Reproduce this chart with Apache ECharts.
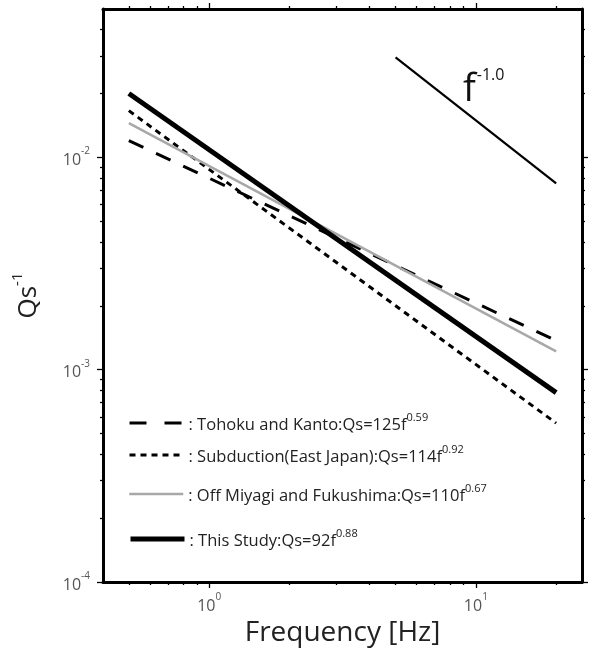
<!DOCTYPE html>
<html>
<head>
<meta charset="utf-8">
<script src="https://cdn.jsdelivr.net/npm/echarts@6/dist/echarts.min.js"></script>
<style>html,body{margin:0;padding:0;background:#fff}#c{width:590px;height:652px}</style>
</head>
<body>
<div id="c"></div>
<script>
// ---- data ----
const xRange = [0.4, 25];
const yRange = [1e-4, 0.05];
const freq = [0.5, 20];
const tohoku = [0.0120, 0.00137];
const subduction = [0.0166, 0.00056];
const offMiyagi = [0.0145, 0.00122];
const thisStudy = [0.0200, 0.00078];
const slopeFreq = [5, 20];
const slopeVal = [0.0296, 0.00755];
const xMajor = [1, 10];
const xMajorExp = ['0', '1'];
const xMinor = [0.5, 0.6, 0.7, 0.8, 0.9, 2, 3, 4, 5, 6, 7, 8, 9, 20];
const yMajor = [1e-4, 1e-3, 1e-2];
const yMajorExp = ['-4', '-3', '-2'];
const yMinor = [2e-4, 3e-4, 4e-4, 5e-4, 6e-4, 7e-4, 8e-4, 9e-4,
                2e-3, 3e-3, 4e-3, 5e-3, 6e-3, 7e-3, 8e-3, 9e-3,
                0.02, 0.03, 0.04];
const seriesNames = ['Tohoku and Kanto', 'Subduction(East Japan)', 'Off Miyagi and Fukushima', 'This Study'];
const legendMain = [': Tohoku and Kanto:Qs=125f', ': Subduction(East Japan):Qs=114f', ': Off Miyagi and Fukushima:Qs=110f', ': This Study:Qs=92f'];
const legendSup = ['0.59', '0.92', '0.67', '0.88'];

const FONT = 'Open Sans';
const pair = (xs, ys) => xs.map((x, i) => [x, ys[i]]);

function expLabel(v, majors, exps) {
  for (let i = 0; i < majors.length; i++) {
    if (Math.abs(v - majors[i]) / majors[i] < 1e-6) return '{b|10}{s|' + exps[i] + '}';
  }
  return '';
}
const labelRich = {
  b: { fontFamily: FONT, fontSize: 16, color: '#555', lineHeight: 22, verticalAlign: 'bottom' },
  s: { fontFamily: FONT, fontSize: 10, color: '#555', lineHeight: 22, verticalAlign: 'top' }
};

const lineDefs = [
  { data: tohoku, color: '#000', width: 3, type: [16, 14] },
  { data: subduction, color: '#000', width: 3, type: [6, 5] },
  { data: offMiyagi, color: '#a8a8a8', width: 2.5, type: 'solid' },
  { data: thisStudy, color: '#000', width: 5, type: 'solid' }
];
const legendDash = [[17, 18], [6, 5], 'solid', 'solid'];
const legendTops = [423, 455, 494, 539];

const series = lineDefs.map((d, i) => ({
  name: seriesNames[i],
  type: 'line',
  xAxisIndex: 0, yAxisIndex: 0,
  data: pair(freq, d.data),
  symbol: 'none',
  silent: true,
  animation: false,
  lineStyle: { color: d.color, width: d.width, type: d.type },
  itemStyle: { color: d.color },
  z: 3 + i
}));
series.push({
  name: 'slope', type: 'line', xAxisIndex: 0, yAxisIndex: 0,
  data: pair(slopeFreq, slopeVal), symbol: 'none',
  animation: false, lineStyle: { color: '#000', width: 2.2 }, z: 3
});

const legends = seriesNames.map((n, i) => ({
  data: [n],
  left: 128,
  top: legendTops[i] - 11,
  orient: 'horizontal',
  itemWidth: 54,
  itemHeight: 14,
  padding: 0,
  selectedMode: false,
  itemStyle: { opacity: 0, borderWidth: 0 },
  lineStyle: { width: lineDefs[i].width, type: legendDash[i], color: lineDefs[i].color },
  formatter: () => '{m|' + legendMain[i] + '}{s|' + legendSup[i] + '}',
  textStyle: {
    rich: {
      m: { fontFamily: FONT, fontSize: 16.5, color: '#222', lineHeight: 22, verticalAlign: 'bottom' },
      s: { fontFamily: FONT, fontSize: 11, color: '#222', lineHeight: 22, verticalAlign: 'top' }
    }
  }
}));

const gridBox = { left: 103, right: 8, top: 9, bottom: 70, containLabel: false };
const tickStyle = { color: '#000', width: 1.3 };

function xAx(grid, pos, values, len, extra) {
  return Object.assign({
    type: 'log', logBase: 10, min: xRange[0], max: xRange[1], gridIndex: grid, position: pos,
    axisLine: { show: grid === 0, lineStyle: { color: '#000', width: 3 } },
    axisTick: { show: true, customValues: values, length: len, inside: false, lineStyle: tickStyle },
    splitLine: { show: false }, minorTick: { show: false },
    axisLabel: { show: false }
  }, extra || {});
}
function yAx(grid, pos, values, len, extra) {
  return Object.assign({
    type: 'log', logBase: 10, min: yRange[0], max: yRange[1], gridIndex: grid, position: pos,
    axisLine: { show: grid === 0, lineStyle: { color: '#000', width: 3 } },
    axisTick: { show: true, customValues: values, length: len, inside: false, lineStyle: tickStyle },
    splitLine: { show: false }, minorTick: { show: false },
    axisLabel: { show: false }
  }, extra || {});
}

const chart = echarts.init(document.getElementById('c'), null, { renderer: 'canvas' });
chart.setOption({
  animation: false,
  backgroundColor: '#fff',
  grid: [Object.assign({}, gridBox), Object.assign({}, gridBox)],
  legend: legends,
  xAxis: [
    xAx(0, 'bottom', xMajor, 6, {
      axisLabel: { show: true, margin: 10, customValues: xMajor, formatter: v => expLabel(v, xMajor, xMajorExp), rich: labelRich },
      name: 'Frequency [Hz]', nameLocation: 'middle', nameGap: 31,
      nameTextStyle: { fontFamily: FONT, fontSize: 28, color: '#222' } }),
    xAx(0, 'top', xMajor, 6),
    xAx(1, 'bottom', xMinor, 3),
    xAx(1, 'top', xMinor, 3)
  ],
  yAxis: [
    yAx(0, 'left', yMajor, 6, {
      axisLabel: { show: true, margin: 13, customValues: yMajor, formatter: v => expLabel(v, yMajor, yMajorExp), rich: labelRich },
      name: '{q|Qs}{s|-1}', nameLocation: 'middle', nameGap: 61, nameRotate: 90,
      nameTextStyle: { rich: {
        q: { fontFamily: FONT, fontSize: 26, color: '#222', lineHeight: 32, verticalAlign: 'bottom' },
        s: { fontFamily: FONT, fontSize: 15, color: '#222', lineHeight: 32, verticalAlign: 'top' }
      } } }),
    yAx(0, 'right', yMajor, 6),
    yAx(1, 'left', yMinor, 3),
    yAx(1, 'right', yMinor, 3)
  ],
  graphic: [
    { type: 'text', left: 463, top: 63, style: { text: '{f|f}{s|-1.0}', rich: {
      f: { fontFamily: FONT, fontSize: 38, fill: '#111', lineHeight: 46, verticalAlign: 'bottom' },
      s: { fontFamily: FONT, fontSize: 16, fill: '#111', lineHeight: 46, verticalAlign: 'top', padding: [4, 0, 0, 1] }
    } } }
  ],
  series: series
});
</script>
</body>
</html>
